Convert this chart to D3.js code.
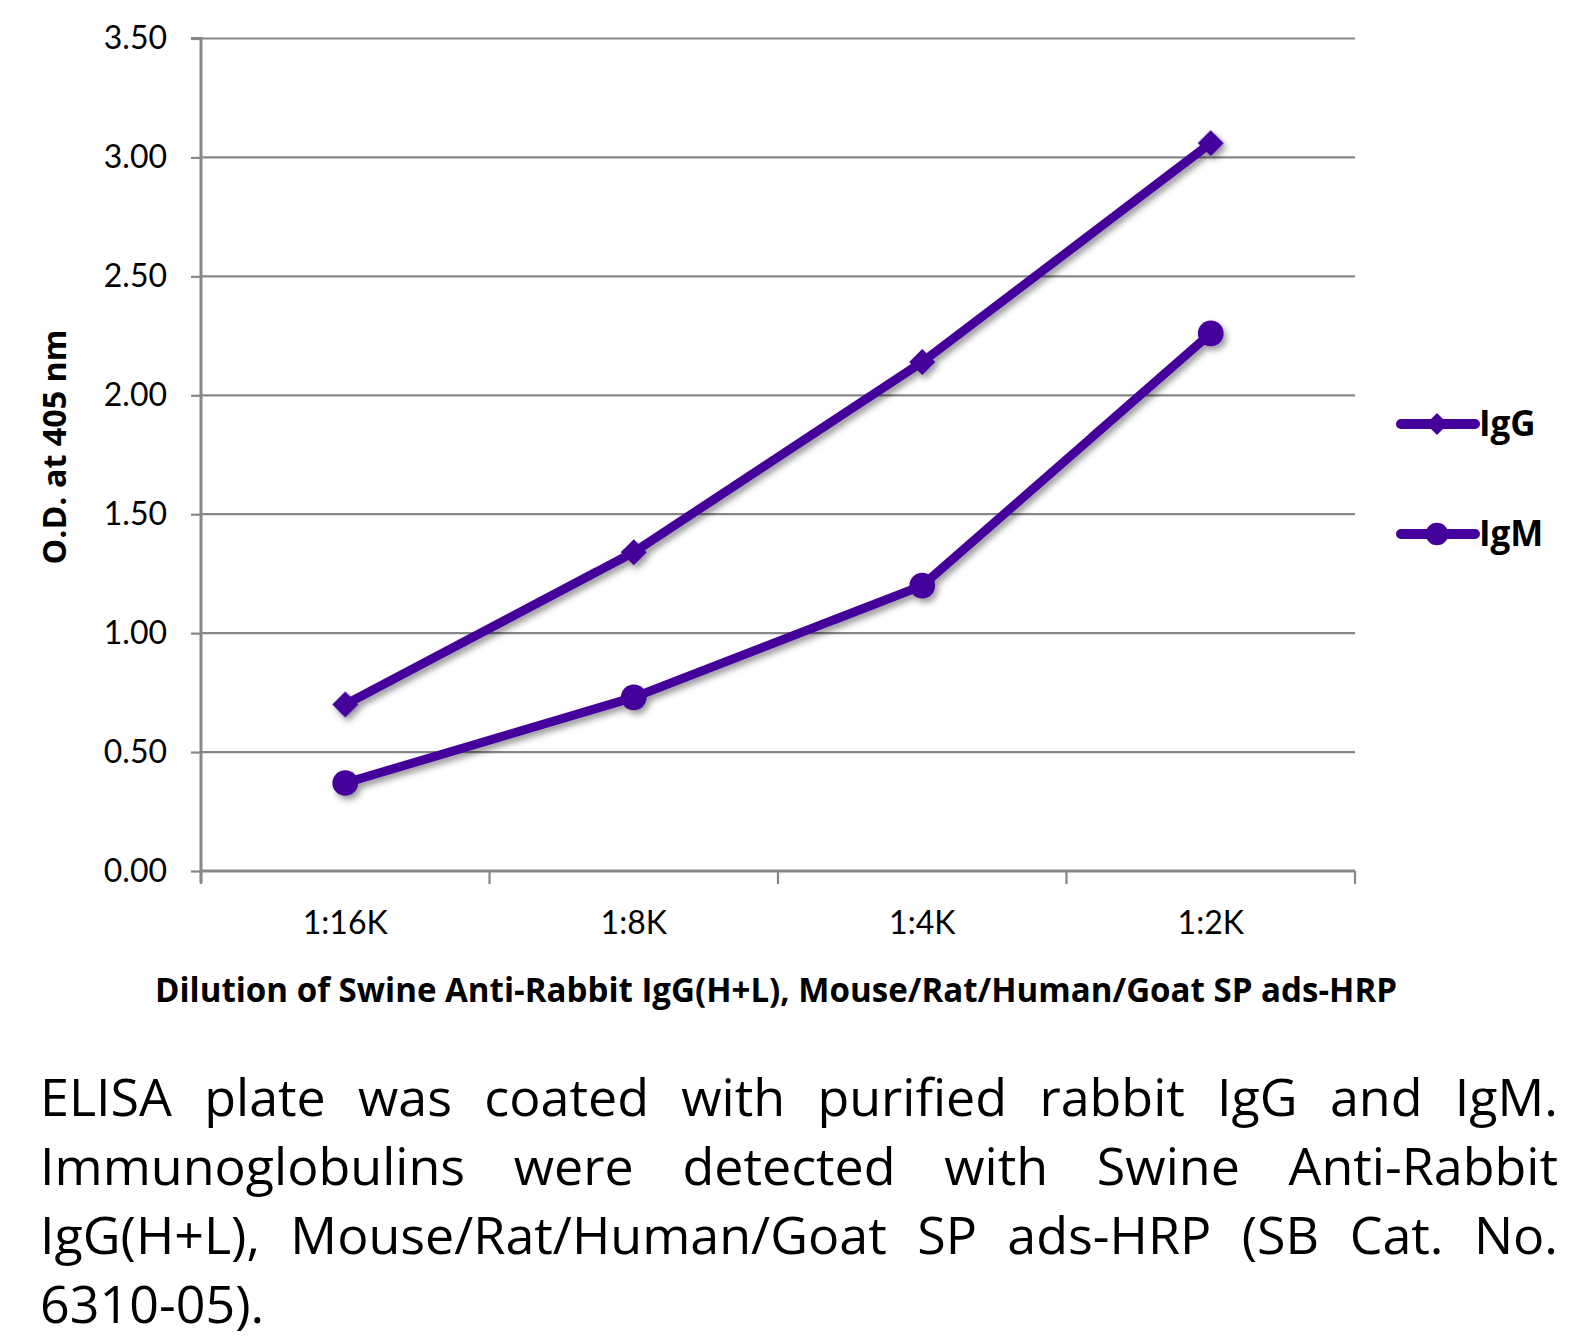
<!DOCTYPE html>
<html><head><meta charset="utf-8">
<script src="https://cdn.jsdelivr.net/npm/d3@7/dist/d3.min.js"></script>
<style>
html,body{margin:0;padding:0;background:#fff;}
svg{display:block;}
</style></head>
<body>
<svg id="chart" width="1590" height="1340"></svg>
<script>
const categories = ["1:16K", "1:8K", "1:4K", "1:2K"];
const igG = [0.70, 1.34, 2.14, 3.06];
const igM = [0.37, 0.73, 1.20, 2.26];
const yTicks = [0, 0.5, 1.0, 1.5, 2.0, 2.5, 3.0, 3.5];
const seriesNames = ["IgG", "IgM"];
const yTitle = "O.D. at 405 nm";
const xTitle = "Dilution of Swine Anti-Rabbit IgG(H+L), Mouse/Rat/Human/Goat SP ads-HRP";
const captionLines = [
  "ELISA plate was coated with purified rabbit IgG and IgM.",
  "Immunoglobulins were detected with Swine Anti-Rabbit",
  "IgG(H+L), Mouse/Rat/Human/Goat SP ads-HRP (SB Cat. No.",
  "6310-05)."
];

const COLOR = "#44029b";
const GRID = "#878787";
const svg = d3.select("#chart");
const defs = svg.append("defs");
const f = defs.append("filter").attr("id","shadow").attr("x","-20%").attr("y","-20%").attr("width","140%").attr("height","140%");
f.append("feDropShadow").attr("dx",3).attr("dy",4).attr("stdDeviation",3).attr("flood-color","#000").attr("flood-opacity",0.4);

const pLeft = 201, pRight = 1355, pTop = 38.5, pBottom = 871;
const x = d3.scaleBand().domain(categories).range([pLeft, pRight]);
const y = d3.scaleLinear().domain([0, 3.5]).range([pBottom, pTop]);

// gridlines
svg.append("g").selectAll("line").data(yTicks.filter(d=>d>0)).join("line")
  .attr("x1", pLeft).attr("x2", pRight)
  .attr("y1", d=>y(d)).attr("y2", d=>y(d))
  .attr("stroke", GRID).attr("stroke-width", 2.2);

// y axis
const yAxis = d3.axisLeft(y).tickValues(yTicks).tickFormat(d3.format(".2f")).tickSize(10).tickPadding(24);
const gy = svg.append("g").attr("transform", `translate(${pLeft},0)`).call(yAxis);
gy.select(".domain").attr("stroke", GRID).attr("stroke-width", 3).attr("d", `M-10,${pTop}H0V${pBottom+12}`);
gy.selectAll(".tick line").attr("stroke", GRID).attr("stroke-width", 2.2);
gy.selectAll(".tick text").attr("font-family","Lato, 'Open Sans', sans-serif").attr("font-size", 32).attr("fill","#000");

// x axis
const xAxis = d3.axisBottom(x).tickSize(0).tickPadding(40);
const gx = svg.append("g").attr("transform", `translate(0,${pBottom})`).call(xAxis);
gx.select(".domain").attr("stroke", GRID).attr("stroke-width", 3).attr("d", `M${pLeft},0H${pRight}`);
gx.selectAll(".tick text").attr("font-family","Lato, 'Open Sans', sans-serif").attr("font-size", 32).attr("fill","#000");
const bounds = categories.map(c=>x(c)).concat([x(categories[categories.length-1]) + x.bandwidth()]);
gx.append("g").selectAll("line").data(bounds).join("line")
  .attr("x1", d=>d).attr("x2", d=>d).attr("y1", 0).attr("y2", 13)
  .attr("stroke", GRID).attr("stroke-width", 2.2);

// titles
svg.append("text").attr("transform", `translate(66,447) rotate(-90)`)
  .attr("text-anchor","middle").attr("font-family","'Liberation Sans Narrow', 'Open Sans', sans-serif")
  .attr("font-weight","bold").attr("font-size", 33).attr("textLength", 235).attr("lengthAdjust","spacingAndGlyphs")
  .text(yTitle);
svg.append("text").attr("x", 776).attr("y", 1002)
  .attr("text-anchor","middle").attr("font-family","'Liberation Sans Narrow', 'Open Sans', sans-serif")
  .attr("font-weight","bold").attr("font-size", 34).attr("textLength", 1242).attr("lengthAdjust","spacingAndGlyphs")
  .text(xTitle);

// series
const cx = c => x(c) + x.bandwidth()/2;
const line = d3.line().x(d=>cx(d.c)).y(d=>y(d.v));
const series = [
  {name: seriesNames[0], vals: igG, sym: d3.symbolSquare, size: 340, rot: 45},
  {name: seriesNames[1], vals: igM, sym: d3.symbolCircle, size: 520, rot: 0}
];
series.forEach(s => {
  const pts = categories.map((c,i)=>({c, v: s.vals[i]}));
  const g = svg.append("g").attr("filter","url(#shadow)");
  g.append("path").attr("d", line(pts)).attr("fill","none").attr("stroke", COLOR)
    .attr("stroke-width", 9).attr("stroke-linejoin","round").attr("stroke-linecap","round");
  g.selectAll("path.m").data(pts).join("path").attr("class","m")
    .attr("transform", d=>`translate(${cx(d.c)},${y(d.v)}) rotate(${s.rot})`)
    .attr("d", d3.symbol().type(s.sym).size(s.size)).attr("fill", COLOR);
});

// legend
const legY = [424, 534];
series.forEach((s,i) => {
  const g = svg.append("g").attr("transform", `translate(0,${legY[i]})`);
  g.append("line").attr("x1", 1401).attr("x2", 1475).attr("y1",0).attr("y2",0)
    .attr("stroke", COLOR).attr("stroke-width", 10).attr("stroke-linecap","round");
  g.append("path").attr("transform",`translate(1437,0) rotate(${s.rot})`)
    .attr("d", d3.symbol().type(s.sym).size(i===0?240:400)).attr("fill", COLOR);
  g.append("text").attr("x", 1479).attr("y", 12).attr("font-family","'Open Sans', sans-serif")
    .attr("font-weight","bold").attr("font-size", 35).attr("fill","#000").text(s.name);
});

// caption, justified
const capLeft = 40, capRight = 1558, capY0 = 1116, capLH = 69;
captionLines.forEach((ln, li) => {
  const words = ln.split(" ");
  const g = svg.append("g");
  const texts = words.map(w => g.append("text").attr("y", capY0 + li*capLH)
    .attr("font-family","'Open Sans', sans-serif").attr("font-size", 52).attr("fill","#000").text(w));
  const widths = texts.map(t => t.node().getComputedTextLength());
  const total = d3.sum(widths);
  const last = li === captionLines.length - 1;
  const gap = (last || words.length < 2) ? 14 : (capRight - capLeft - total) / (words.length - 1);
  let xpos = capLeft;
  texts.forEach((t,i) => { t.attr("x", xpos); xpos += widths[i] + gap; });
});
</script>
</body></html>
